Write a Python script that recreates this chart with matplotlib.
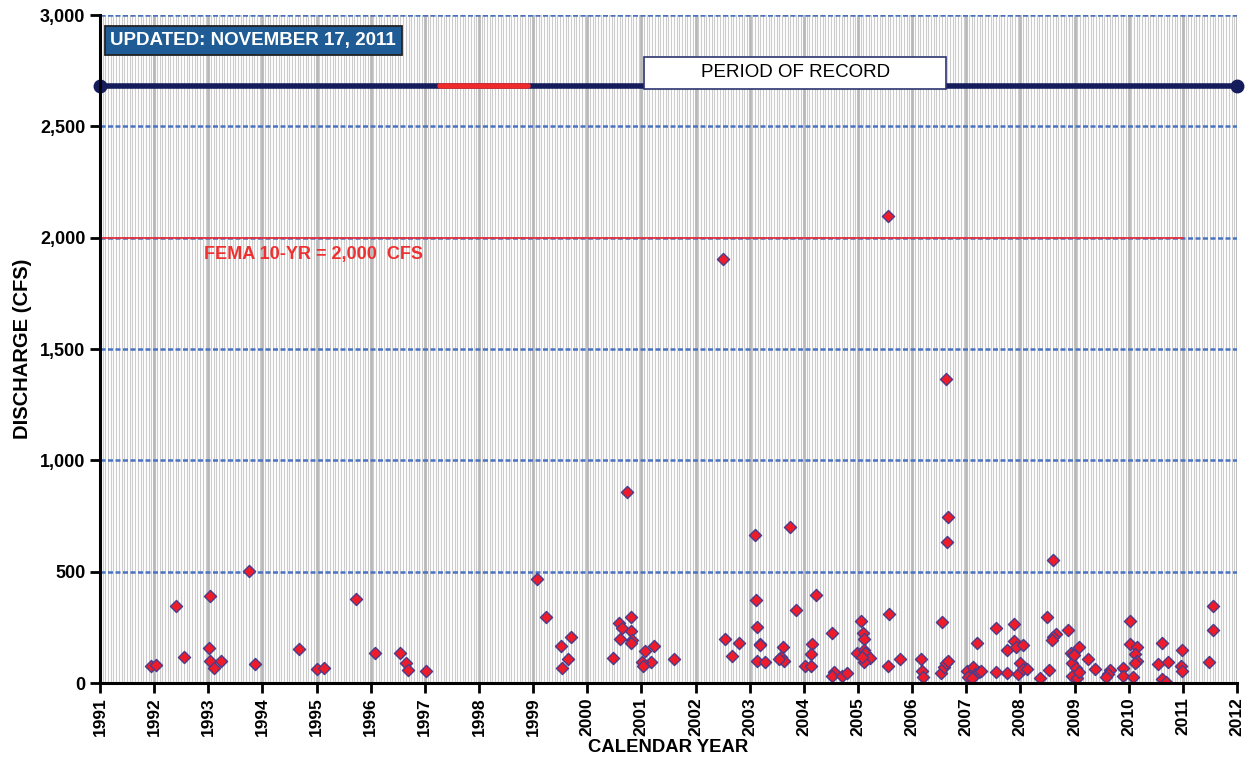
import numpy as np
import matplotlib
matplotlib.use('Agg')
import matplotlib.pyplot as plt
from matplotlib.ticker import MultipleLocator, FuncFormatter
import matplotlib.patches as patches

plt.rcParams['font.family'] = ['Liberation Sans', 'DejaVu Sans']

# peak discharge events (decimal year, cfs)
year = [1991.94, 1992.03, 1992.40, 1992.56, 1993.04, 1993.02, 1993.04, 1993.23, 1993.11, 1993.75,
        1993.86, 1994.68, 1995.00, 1995.14, 1995.73, 1996.08, 1996.55, 1996.66, 1996.69, 1997.03,
        1999.08, 1999.24, 1999.52, 1999.70, 1999.65, 1999.53, 2000.47, 2000.59, 2000.81, 2000.65,
        2000.80, 2000.61, 2000.83, 2000.81, 2001.06, 2001.24, 2001.17, 2001.01, 2001.03, 2001.61,
        2000.73, 2002.51, 2002.54, 2002.67, 2002.80, 2003.10, 2003.11, 2003.14, 2003.19, 2003.19,
        2003.14, 2003.28, 2003.62, 2003.57, 2003.63, 2003.54, 2003.74, 2003.86, 2004.23, 2004.16,
        2004.13, 2004.03, 2004.13, 2004.53, 2004.55, 2004.52, 2004.70, 2004.79, 2005.06, 2005.10,
        2005.12, 2004.99, 2005.11, 2005.13, 2005.22, 2005.12, 2005.07, 2005.57, 2005.55, 2005.55,
        2005.78, 2006.17, 2006.19, 2006.21, 2006.55, 2006.54, 2006.59, 2006.62, 2006.66, 2006.63,
        2006.66, 2006.64, 2007.20, 2007.02, 2007.07, 2007.12, 2007.16, 2007.24, 2007.28, 2007.04,
        2007.10, 2007.55, 2007.55, 2007.75, 2007.76, 2007.89, 2007.89, 2007.92, 2008.05, 2007.95,
        2008.00, 2008.05, 2008.12, 2008.50, 2008.65, 2008.61, 2008.58, 2008.53, 2008.37, 2008.60,
        2008.88, 2008.93, 2008.97, 2008.96, 2009.02, 2008.95, 2009.04, 2009.09, 2008.99, 2009.09,
        2009.25, 2009.37, 2009.65, 2009.62, 2009.58, 2009.90, 2009.90, 2010.08, 2010.03, 2010.03,
        2010.15, 2010.12, 2010.15, 2010.12, 2010.62, 2010.55, 2010.73, 2010.62, 2010.69, 2010.98,
        2010.96, 2010.98, 2011.56, 2011.55, 2011.49]
cfs = [76, 79, 346, 118, 391, 156, 100, 100, 66, 503,
       87, 154, 63, 69, 377, 136, 136, 91, 58, 55,
       465, 298, 165, 205, 108, 67, 114, 269, 298, 245,
       235, 199, 192, 181, 144, 165, 96, 96, 75, 109,
       858, 1904, 196, 121, 178, 665, 373, 251, 177, 171,
       99, 96, 162, 115, 100, 108, 700, 329, 394, 174,
       130, 76, 76, 226, 48, 33, 31, 44, 280, 223,
       196, 136, 148, 133, 114, 96, 118, 311, 76, 2097,
       109, 109, 55, 26, 274, 44, 70, 88, 100, 1365,
       745, 633, 178, 55, 36, 70, 40, 51, 55, 28,
       21, 51, 245, 44, 148, 263, 190, 163, 169, 40,
       90, 61, 61, 298, 220, 205, 193, 58, 24, 552,
       237, 136, 126, 91, 66, 33, 21, 160, 124, 49,
       108, 64, 58, 39, 28, 69, 31, 26, 277, 175,
       160, 130, 97, 88, 178, 85, 96, 18, 6, 148,
       76, 55, 346, 238, 96]

record_start, record_end = 1991, 2012
gap_start, gap_end = 1997.28, 1998.90
record_level = 2680
fema_level = 2000
fema_end = 2011

fig = plt.figure(figsize=(12.54, 7.67), dpi=100)
ax = fig.add_axes([0.0797, 0.1095, 0.9067, 0.8709])

ax.set_xlim(1991, 2012)
ax.set_ylim(0, 3000)

# vertical grid: years heavy, light lines in between
ax.xaxis.set_major_locator(MultipleLocator(1))
ax.xaxis.set_minor_locator(MultipleLocator(1 / 20))
ax.grid(which='minor', axis='x', color='#cccccc', lw=0.8)
ax.grid(which='major', axis='x', color='#b8b8b8', lw=2.0)
ax.yaxis.set_major_locator(MultipleLocator(500))
for lv in range(500, 3001, 500):
    ax.axhline(lv, color='#4a72c0', lw=1.8, ls=(0, (2, 1)), zorder=1.5)
ax.set_axisbelow(True)

ax.plot([1991, fema_end], [fema_level, fema_level], color='#e8303a', lw=1.3, zorder=2)
ax.text(1992.92, 1926, 'FEMA 10-YR = 2,000  CFS', color='#f03030', fontsize=13,
        fontweight='bold', va='center', ha='left', zorder=3)

# period of record bar
ax.plot([record_start, record_end], [record_level, record_level], color='#141c5c', lw=4,
        zorder=3, solid_capstyle='butt', clip_on=False)
ax.plot([gap_start, gap_end], [record_level, record_level], color='#ee2a2a', lw=4,
        zorder=3.5, solid_capstyle='round')
ax.plot([record_start, record_end], [record_level, record_level], 'o', color='#141c5c', ms=9,
        zorder=4, clip_on=False)
ax.add_patch(patches.Rectangle((2001.05, 2667), 5.58, 144, facecolor='white', edgecolor='#2c3570',
                               lw=1.2, zorder=5))
ax.text(2003.84, 2740, 'PERIOD OF RECORD', fontsize=13.5, ha='center', va='center', zorder=6)

ax.text(0.009, 0.962, 'UPDATED: NOVEMBER 17, 2011', transform=ax.transAxes, fontsize=13.5,
        fontweight='bold', color='white', ha='left', va='center', zorder=6,
        bbox=dict(boxstyle='square,pad=0.3', facecolor='#1f5c96', edgecolor='#222222', lw=1.3))

ax.scatter(year, cfs, marker='D', s=38, facecolor='#ee1c2a', edgecolor='#4a3c8c', lw=1.0, zorder=7)

for s in ['top', 'right']:
    ax.spines[s].set_visible(False)
for s in ['left', 'bottom']:
    ax.spines[s].set_linewidth(2.2)
    ax.spines[s].set_zorder(8)

ax.tick_params(axis='both', which='major', length=7, width=2, direction='out')
ax.tick_params(axis='y', labelsize=13)
ax.tick_params(axis='x', labelsize=12.5, rotation=90, pad=3)
ax.tick_params(axis='x', which='minor', length=0)
ax.yaxis.set_major_formatter(FuncFormatter(lambda v, p: '{:,.0f}'.format(v)))
ax.xaxis.set_major_formatter(FuncFormatter(lambda v, p: '%d' % v))
for lab in ax.get_xticklabels() + ax.get_yticklabels():
    lab.set_fontweight('bold')

ax.set_xlabel('CALENDAR YEAR', fontsize=13.3, fontweight='bold', labelpad=2)
ax.set_ylabel('DISCHARGE (CFS)', fontsize=14.5, fontweight='bold', labelpad=6)

fig.savefig('out.png', dpi=100)
